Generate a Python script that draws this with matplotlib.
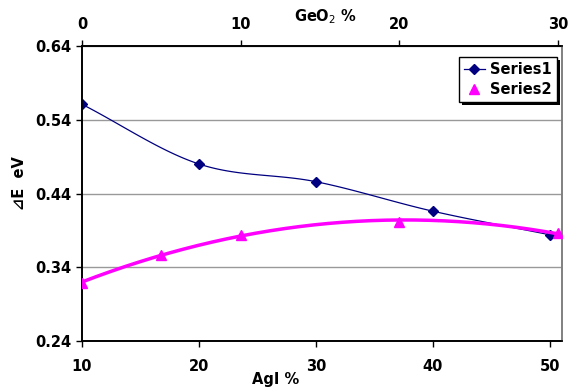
import numpy as np
import matplotlib.pyplot as plt
from matplotlib.lines import Line2D

# AgI % (bottom axis) -> Series1
agi = [10, 20, 30, 40, 50]
series1 = [0.561, 0.480, 0.456, 0.416, 0.384]

# GeO2 % (top axis) -> Series2
geo2 = [0, 5, 10, 20, 30]
series2 = [0.319, 0.357, 0.384, 0.402, 0.386]

yticks = [0.24, 0.34, 0.44, 0.54, 0.64]


def smooth(x, y, n=30):
    # catmull-rom style smoothing like Excel "smoothed line"
    x = np.asarray(x, float)
    y = np.asarray(y, float)
    px = np.concatenate([[2 * x[0] - x[1]], x, [2 * x[-1] - x[-2]]])
    py = np.concatenate([[2 * y[0] - y[1]], y, [2 * y[-1] - y[-2]]])
    xs, ys = [], []
    t = np.linspace(0, 1, n)
    for i in range(1, len(px) - 2):
        for arr, out in ((px, xs), (py, ys)):
            p0, p1, p2, p3 = arr[i - 1:i + 3]
            out.extend(0.5 * ((2 * p1) + (-p0 + p2) * t
                              + (2 * p0 - 5 * p1 + 4 * p2 - p3) * t ** 2
                              + (-p0 + 3 * p1 - 3 * p2 + p3) * t ** 3))
    return xs, ys


fig = plt.figure(figsize=(5.71, 3.87), dpi=100)
ax = fig.add_axes([82 / 571, 1 - 341 / 387, 480 / 571, 295 / 387])
ax.set_xlim(10, 51.03)
ax.set_ylim(0.24, 0.64)
ax.set_yticks(yticks)
ax.set_yticklabels(["%.2f" % v for v in yticks])
ax.set_xticks(agi)
ax.grid(axis="y", color="#999999", lw=1)
ax.set_axisbelow(True)

sx, sy = smooth(agi, series1)
ax.plot(sx, sy, color="#000080", lw=0.9, zorder=3)
ax.plot(agi, series1, color="#000080", marker="D", ms=5.5, ls="None",
        zorder=4)

ax2 = ax.twiny()
ax2.set_xlim(0, 30.25)
ax2.set_xticks([0, 10, 20, 30])
coef = np.polyfit(geo2, series2, 2)
xt = np.linspace(0, 30.25, 200)
ax2.plot(xt, np.polyval(coef, xt), color="#FF00FF", lw=2.5, zorder=3)
ax2.plot(geo2, series2, color="#FF00FF", marker="^", ms=7, ls="None",
         zorder=4)

for a in (ax, ax2):
    a.tick_params(labelsize=10.5, direction="out", length=4, width=1)
    for lab in a.get_xticklabels() + a.get_yticklabels():
        lab.set_fontweight("bold")
    for s in a.spines.values():
        s.set_linewidth(1.2)
ax.spines["right"].set_color("#808080")
ax2.spines["right"].set_color("#808080")
ax.tick_params(axis="x", pad=9)
ax2.tick_params(axis="x", pad=6)

# axis titles
fig.text(276 / 571, 1 - 372 / 387, "AgI %", fontsize=10.5, fontweight="bold",
         ha="center", va="top")
fig.text(325 / 571, 1 - 17 / 387, "GeO$_2$ %", fontsize=10.5,
         fontweight="bold", ha="center", va="center")
fig.text(20 / 571, 1 - 183 / 387, "\u22bfE  eV", fontsize=10.5,
         fontweight="bold", ha="center", va="center", rotation=90)

h1 = Line2D([], [], color="#000080", lw=0.9, marker="D", ms=5.5)
h2 = Line2D([], [], color="#FF00FF", ls="None", marker="^", ms=7)
leg = ax2.legend([h1, h2], ["Series1", "Series2"], loc="upper right",
                 bbox_to_anchor=(0.99, 0.963), borderaxespad=0,
                 fancybox=False,
                 shadow={"facecolor": "black", "alpha": 1, "edgecolor": "none"},
                 edgecolor="black", framealpha=1, borderpad=0.35,
                 handlelength=1.4, handletextpad=0.4, labelspacing=0.35,
                 prop={"weight": "bold", "size": 10.5})
leg.get_frame().set_linewidth(1)

fig.savefig("out.png", dpi=100)
